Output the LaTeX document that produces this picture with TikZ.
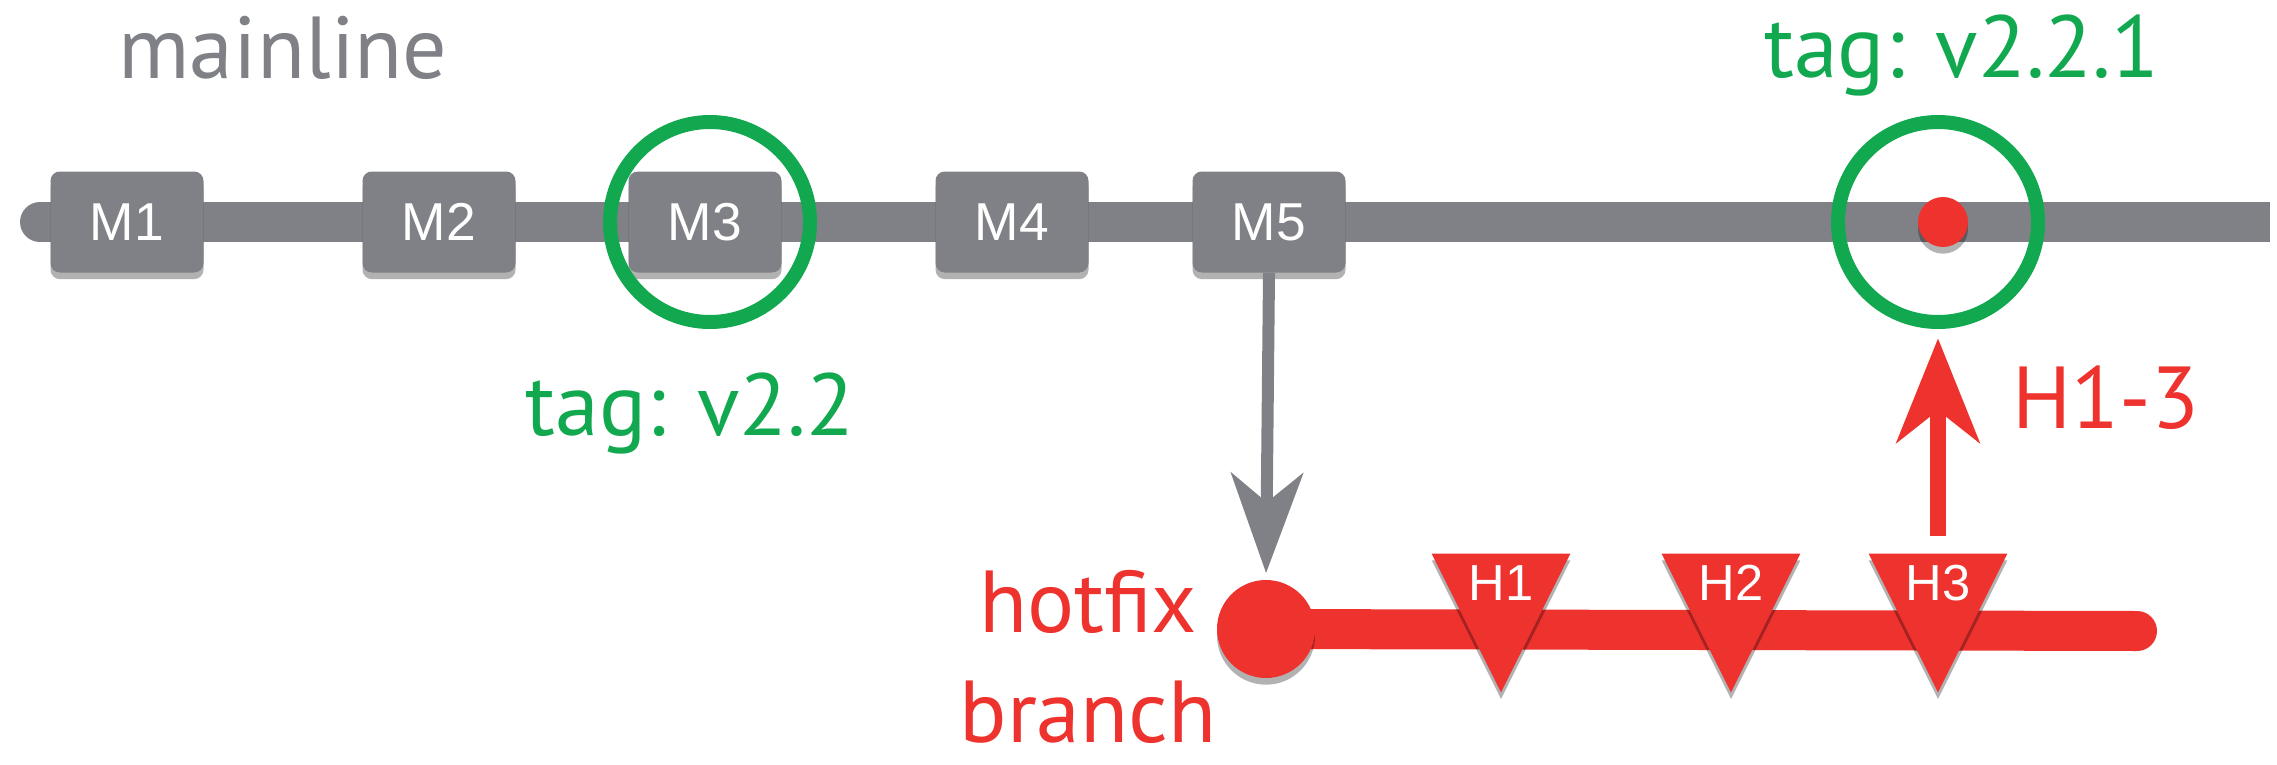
\documentclass[tikz,border=0pt]{standalone}
\usepackage{fontspec}
\setmainfont{PT Sans}
\newfontfamily\boxfont{Liberation Sans}
\usetikzlibrary{shapes.geometric,arrows.meta,shadows,backgrounds}

\definecolor{lineGray}{RGB}{128,129,134}
\definecolor{tagGreen}{RGB}{18,168,80}
\definecolor{fixRed}{RGB}{238,50,46}

\tikzset{
  softshade/.style={drop shadow={shadow xshift=0pt, shadow yshift=-5pt, opacity=.3, fill=black}},
  commit/.style={rectangle, rounded corners=7pt, fill=lineGray, text=white, inner sep=0pt,
    minimum width=114.75pt, minimum height=75.75pt, softshade,
    font=\boxfont\fontsize{40}{40}\selectfont},
  fixcommit/.style={isosceles triangle, shape border rotate=-90, isosceles triangle stretches,
    minimum width=104pt, minimum height=104pt, fill=fixRed, text=white, inner sep=0pt, softshade,
    font=\boxfont\fontsize{38}{38}\selectfont},
  tagring/.style={circle, draw=tagGreen, line width=10.5pt, minimum size=150pt, inner sep=0pt},
  caption/.style={inner sep=0pt, font=\fontsize{66}{85}\selectfont},
  trunk/.style={line width=30pt},
  mergeflow/.style={-{Stealth[length=75pt, width=54pt, inset=22pt]}, line width=9pt, draw=lineGray},
  fixflow/.style={-{Stealth[length=78pt, width=62pt, inset=24pt]}, line width=12pt, draw=fixRed}
}

\begin{document}
\begin{tikzpicture}[x=0.75pt,y=0.75pt,yscale=-1,xscale=1]
\useasboundingbox (0,0) rectangle (2277,764);

% mainline commits
\node[commit] (m1) at (127,222) {M1};
\node[commit] (m2) at (439,222) {M2};
\node[commit] (m3) at (705,222) {M3};
\node[commit] (m4) at (1012,222) {M4};
\node[commit] (m5) at (1269,222) {M5};
\node[circle, fill=fixRed, minimum size=37.5pt, inner sep=0pt, softshade] (rel) at (1943,222) {};
\coordinate (mstart) at (40,222);
\coordinate (mend) at (2270,222);

% tags
\node[tagring] (tag1) at (710,222) {};
\node[tagring] (tag2) at (1938,222) {};

% hotfix branch
\node[circle, fill=fixRed, minimum size=73.5pt, inner sep=0pt, softshade] (h0) at (1266,629) {};
\node[fixcommit, anchor=apex] (h1) at (1501,693) {H1};
\node[fixcommit, anchor=apex] (h2) at (1731,693) {H2};
\node[fixcommit, anchor=apex] (h3) at (1938,693) {H3};
\coordinate (hend) at (2137,631);

\begin{scope}[on background layer]
\fill[lineGray] (mstart) circle (20);
\draw[trunk, lineGray] (mstart) -- (mend);
\draw[trunk, fixRed, line cap=round] (h0.center) -- (hend);
\end{scope}

% branch off and merge back
\draw[mergeflow, shorten >=5pt] (m5.south) -- (h0.north);
\draw[fixflow, shorten <=13pt, shorten >=7pt] (h3.north) -- (tag2.south);

% Text Node
\node[caption, text=lineGray, anchor=base] (mainlbl) at (283,78) {mainline};
% Text Node
\node[caption, text=tagGreen, anchor=base] (tag1lbl) at (690,435) {tag: v2.2};
% Text Node
\node[caption, text=tagGreen, anchor=base] (tag2lbl) at (1962,77) {tag: v2.2.1};
% Text Node
\node[caption, text=fixRed, anchor=base west] (fixlbl) at (2012,428) {H1-3};
% Text Node
\node[caption, text=fixRed, align=center, anchor=base, font=\fontsize{66}{82}\selectfont] (branchlbl) at (1088,742) {hotfix\\branch};
\end{tikzpicture}
\end{document}
